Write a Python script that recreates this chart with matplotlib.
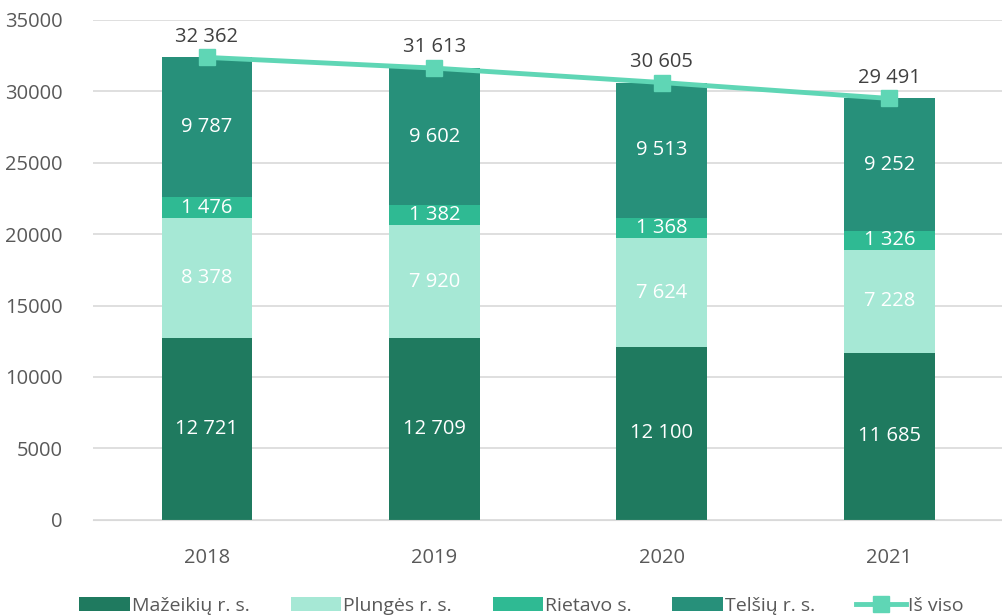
import matplotlib.pyplot as plt
import numpy as np

years = ["2018", "2019", "2020", "2021"]
mazeikiu = [12721, 12709, 12100, 11685]
plunges = [8378, 7920, 7624, 7228]
rietavo = [1476, 1382, 1368, 1326]
telsiu = [9787, 9602, 9513, 9252]
is_viso = [32362, 31613, 30605, 29491]

series = [
    ("Mažeikių r. s.", mazeikiu, "#1f7a5f"),
    ("Plungės r. s.", plunges, "#a6e8d5"),
    ("Rietavo s.", rietavo, "#2fba93"),
    ("Telšių r. s.", telsiu, "#27907a"),
]

plt.rcParams["font.family"] = ["Open Sans", "DejaVu Sans"]

fig = plt.figure(figsize=(10.03, 6.16), dpi=100)
ax = fig.add_axes([0.093, 0.156, 0.907, 0.812])

x = np.arange(len(years))
bottom = np.zeros(len(years))
handles = []
for name, vals, col in series:
    vals = np.array(vals)
    h = ax.bar(x, vals, 0.4, bottom=bottom, color=col, label=name, zorder=2)
    handles.append(h)
    for xi, b, v in zip(x, bottom, vals):
        ax.text(xi, b + v / 2, f"{v:,}".replace(",", " "), ha="center", va="center",
                color="white", fontsize=14.5, zorder=4)
    bottom += vals

ln, = ax.plot(x, is_viso, color="#5fd6b5", lw=3.5, marker="s", ms=11, label="Iš viso", zorder=3)
handles.append(ln)
for xi, v in zip(x, is_viso):
    ax.text(xi, v + 750, f"{v:,}".replace(",", " "), ha="center", va="bottom",
            color="#404040", fontsize=14.5)

ax.set_ylim(0, 35000)
ax.set_yticks(range(0, 35001, 5000))
ax.set_xlim(-0.5, 3.5)
ax.set_xticks(x)
ax.set_xticklabels(years)
ax.yaxis.grid(True, color="#d9d9d9", lw=1.2, zorder=0)
ax.tick_params(length=0, labelsize=14.5, colors="#595959")
ax.tick_params(axis="x", pad=20)
ax.tick_params(axis="y", pad=22)
for s in ax.spines.values():
    s.set_visible(False)
ax.spines["bottom"].set_visible(True)
ax.spines["bottom"].set_color("#d9d9d9")

ax.legend(handles=handles, loc="lower center", bbox_to_anchor=(0.471, -0.225), ncol=5,
          frameon=False, fontsize=14, handlelength=2.6, handletextpad=0.1,
          columnspacing=2.1, labelcolor="#595959")

fig.savefig("out.png", dpi=100)
